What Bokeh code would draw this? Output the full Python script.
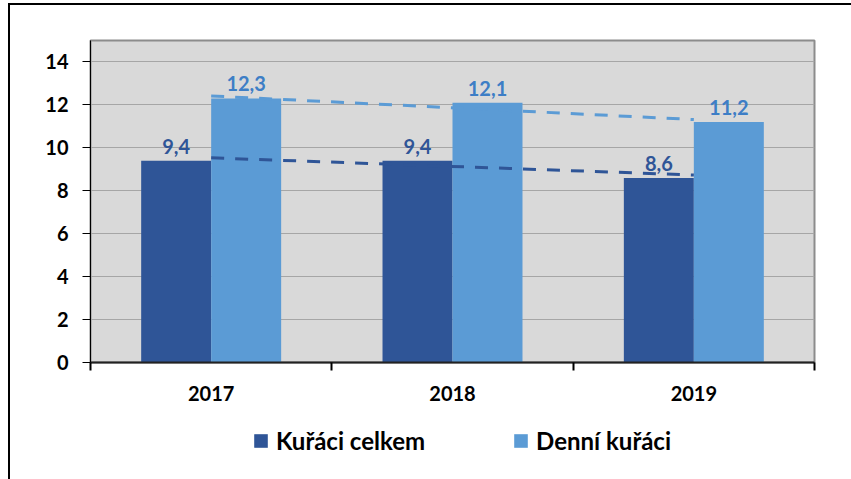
import numpy as np
from bokeh.plotting import figure
from bokeh.layouts import column, row
from bokeh.models import (ColumnDataSource, FixedTicker, Legend, LegendItem, Range1d, Div, Spacer)
from bokeh.core.properties import value
from bokeh.embed import file_html
from bokeh.resources import INLINE

categories = ["2017", "2018", "2019"]
celkem = [9.4, 9.4, 8.6]
denni = [12.3, 12.1, 11.2]
y_ticks = [0, 2, 4, 6, 8, 10, 12, 14]
series_names = ["Kuřáci celkem", "Denní kuřáci"]

DARK = "#2F5597"
LIGHT = "#5B9BD5"
FONT = "Lato"

n = len(categories)
centers = np.arange(n) + 0.5
bw = 0.29

def fmt(v):
    return f"{v:.1f}".replace(".", ",")

src = ColumnDataSource(dict(
    xd=centers - bw / 2, xl=centers + bw / 2,
    c=celkem, d=denni,
    cl=[fmt(v) for v in celkem], dl=[fmt(v) for v in denni],
))

# page geometry
PAGE_W, PAGE_H = 851, 479
TOP_GAP, LEFT_GAP, BORDER = 3, 8, 2
W = PAGE_W - LEFT_GAP - BORDER          # 841
H1 = 415 - TOP_GAP - BORDER             # 410
H2 = PAGE_H - 415                       # 64
ML, MR = 80, 37

p = figure(width=W, height=H1, output_backend="svg", toolbar_location=None,
           x_range=Range1d(0, n), y_range=Range1d(0, 15),
           min_border_left=ML, min_border_top=35, min_border_right=MR, min_border_bottom=53)

p.background_fill_color = "#D9D9D9"
p.border_fill_color = "white"
p.outline_line_color = "#8C8C8C"
p.outline_line_width = 2

p.xgrid.visible = False
p.ygrid.grid_line_color = "#A6A6A6"
p.ygrid.grid_line_width = 1

# axes
p.yaxis.ticker = FixedTicker(ticks=y_ticks)
p.yaxis.axis_line_color = "black"
p.yaxis.major_tick_line_color = "black"
p.yaxis.major_tick_out = 8
p.yaxis.major_tick_in = 0
p.yaxis.minor_tick_line_color = None
p.yaxis.major_label_standoff = 14
p.yaxis.major_label_text_font = FONT
p.yaxis.major_label_text_font_style = "bold"
p.yaxis.major_label_text_font_size = "20px"
p.yaxis.major_label_text_color = "black"

p.xaxis.ticker = FixedTicker(ticks=list(centers), minor_ticks=list(range(n + 1)))
p.xaxis.major_label_overrides = {float(c): cat for c, cat in zip(centers, categories)}
p.xaxis.axis_line_color = "#222222"
p.xaxis.axis_line_width = 2
p.xaxis.major_tick_line_color = None
p.xaxis.major_tick_out = 0
p.xaxis.major_tick_in = 0
p.xaxis.minor_tick_line_color = "black"
p.xaxis.minor_tick_line_width = 2
p.xaxis.minor_tick_out = 8
p.xaxis.minor_tick_in = 0
p.xaxis.major_label_standoff = 15
p.xaxis.major_label_text_font = FONT
p.xaxis.major_label_text_font_style = "bold"
p.xaxis.major_label_text_font_size = "20px"
p.xaxis.major_label_text_color = "black"

p.vbar(x="xd", top="c", width=bw, source=src, fill_color=DARK, line_color=None)
p.vbar(x="xl", top="d", width=bw, source=src, fill_color=LIGHT, line_color=None)

# linear trendlines
idx = np.arange(n)
for vals, col in ((celkem, DARK), (denni, LIGHT)):
    k, q = np.polyfit(idx, vals, 1)
    xe = np.array([idx[0], idx[-1]])
    p.line(x=xe + 0.5, y=k * xe + q, line_color=col, line_width=3, line_dash="13 11")

p.text(x="xd", y="c", text="cl", source=src, text_align="center", text_baseline="bottom",
       y_offset=-7, text_font=value(FONT), text_font_style="bold", text_font_size="20px",
       text_color=DARK)
p.text(x="xl", y="d", text="dl", source=src, text_align="center", text_baseline="bottom",
       y_offset=-7, text_font=value(FONT), text_font_style="bold", text_font_size="20px",
       text_color="#3D7EC6")

# legend strip (zero-height proxy bars carry the legend swatches)
lp = figure(width=W, height=H2, output_backend="svg", toolbar_location=None,
            x_range=Range1d(0, 1), y_range=Range1d(0, 1),
            min_border_left=ML, min_border_right=MR, min_border_top=0, min_border_bottom=0)
lp.axis.visible = False
lp.grid.visible = False
lp.outline_line_color = None
lp.background_fill_color = "white"
lg1 = lp.vbar(x=[0.5], top=[0], bottom=[0], width=0.0, fill_color=DARK, line_color=None)
lg2 = lp.vbar(x=[0.5], top=[0], bottom=[0], width=0.0, fill_color=LIGHT, line_color=None)
legend = Legend(items=[LegendItem(label=series_names[0], renderers=[lg1]),
                       LegendItem(label=series_names[1], renderers=[lg2])],
                orientation="horizontal", location=(162, 24),
                label_text_font=FONT, label_text_font_style="bold", label_text_font_size="24px",
                label_text_color="black",
                glyph_width=17, glyph_height=17, spacing=87, label_standoff=7,
                border_line_color=None, background_fill_alpha=0, padding=0, margin=0)
lp.add_layout(legend, "center")

# outer chart frame: black left and top edges
black = {"background-color": "black"}
top_line = row(Spacer(width=LEFT_GAP, height=BORDER, margin=0),
               Div(width=PAGE_W - LEFT_GAP, height=BORDER, styles=black, margin=0),
               spacing=0)
body = row(Spacer(width=LEFT_GAP, height=H1 + H2, margin=0),
           Div(width=BORDER, height=H1 + H2, styles=black, margin=0),
           column(p, lp, spacing=0),
           spacing=0)
layout = column(Spacer(width=PAGE_W, height=TOP_GAP, margin=0), top_line, body, spacing=0)

open("out.html", "w").write(file_html(layout, INLINE))
